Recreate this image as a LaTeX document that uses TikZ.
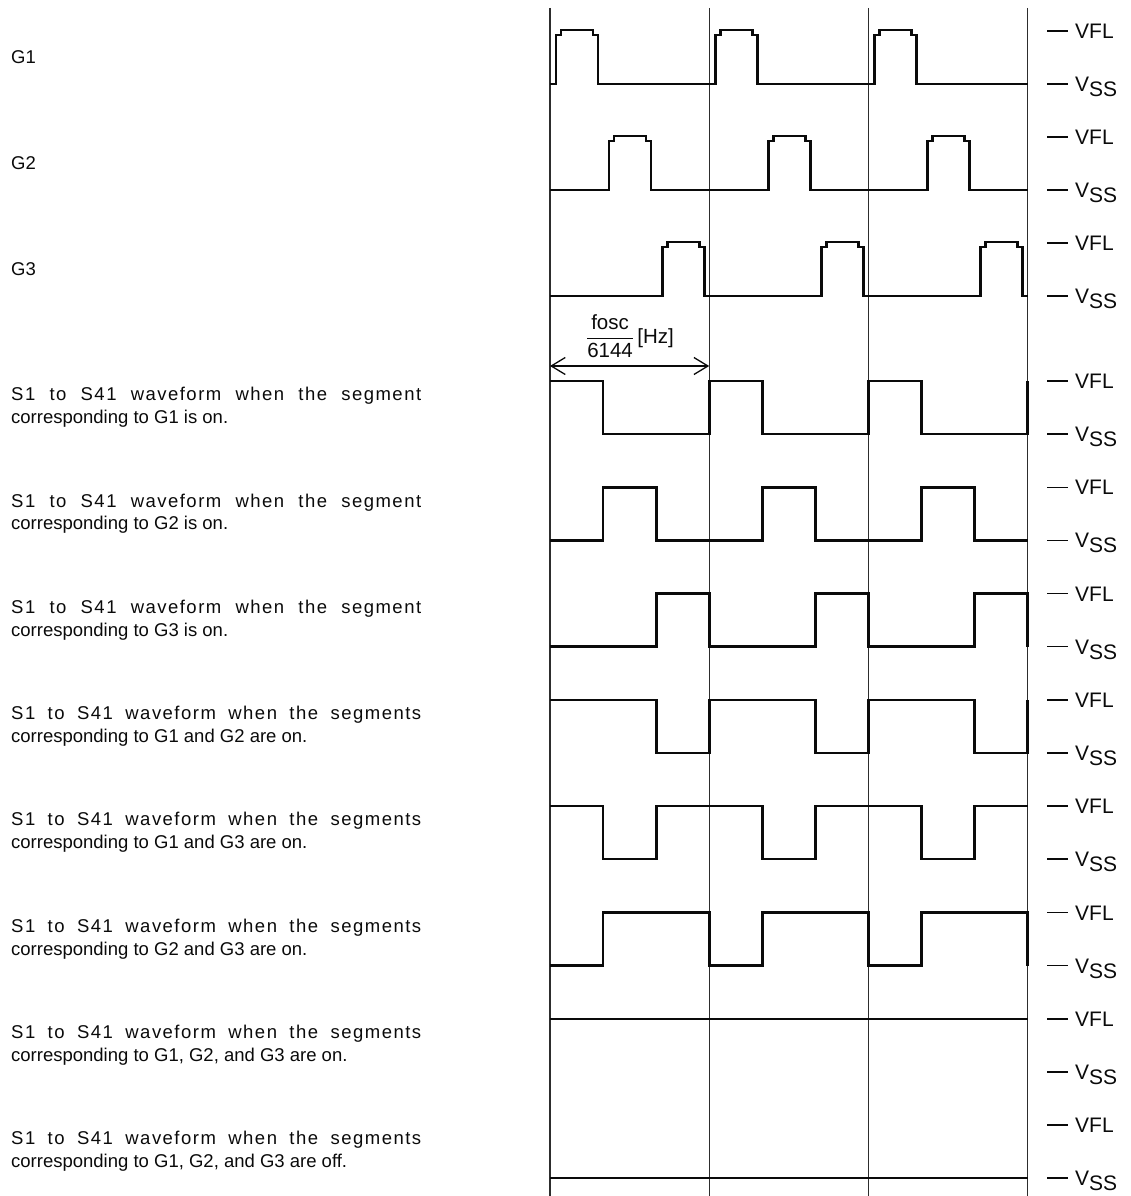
\documentclass[tikz,border=0pt]{standalone}
\usepackage{fontspec}
\setmainfont{Liberation Sans}
\usepackage{amsmath}
\usepackage{tikz}
\usetikzlibrary{arrows.meta, positioning}
\definecolor{myink}{RGB}{10,10,10}
\definecolor{mygrid}{RGB}{45,45,45}
\tikzset{
  wave/.style={line width=2.8pt, color=myink, line join=miter},
  gridline/.style={line width=1.1pt, color=mygrid},
  levlabel/.style={anchor=base west, inner sep=0pt, text=myink,
    font=\fontsize{21}{24}\selectfont},
  rowlabel/.style={anchor=west, align=left, inner sep=0pt, text=myink,
    font=\fontsize{18.5}{22.6}\selectfont},
  dimarrow/.style={{Straight Barb[length=14pt,width=17pt]}-{Straight Barb[length=14pt,width=17pt]},
    line width=1.3pt, color=myink}
}
% dash in front of VFL / VSS
\newcommand{\levdash}{\rule[6.9pt]{21pt}{1.3pt}\hspace{7pt}}
% grid pulse: #1 = VFL level, #2 = third of the period (0,1,2)
\newcommand{\gpulse}[2]{%
  \draw[wave] (550,{#1+53})
    \foreach \k [evaluate=\k as \a using {550+159.17*\k+53.06*#2}] in {0,1,2} {
      -- ({\a+6},{#1+53}) -- ({\a+6},{#1+4}) -- ({\a+11},{#1+4}) -- ({\a+11},{#1-1})
      -- ({\a+43},{#1-1}) -- ({\a+43},{#1+4}) -- ({\a+48},{#1+4}) -- ({\a+48},{#1+53})
    } -- (1027.5,{#1+53});
}
% segment wave: #1 = VFL level, #2-#4 = level in each third (1 = VFL, 0 = VSS)
\newcommand{\swave}[4]{%
  \draw[wave] (550,{#1+53-53*#2})
    \foreach \k [evaluate=\k as \a using {550+159.17*\k}] in {0,1,2} {
      -| ({\a+53.06},{#1+53-53*#3}) -| ({\a+106.11},{#1+53-53*#4})
      -| ({\a+159.17},{#1+53-53*#2})
    };
}
\newcommand{\seglabel}[4]{%
  \node[rowlabel] (#1) at (11,{#2+26.5})
    {\makebox[410pt][s]{\addfontfeature{LetterSpace=8}#3}\\#4};
}

\begin{document}
\begin{tikzpicture}[x=1pt,y=-1pt]
  \useasboundingbox (0,0) rectangle (1131,1196);

  \foreach \k in {0,...,3}
    \draw[gridline] ({550+159.17*\k},8) -- ({550+159.17*\k},1196);

  % level marks
  \foreach \y [count=\i] in {31,137,243,381,487.3,593.6,700,806,912.5,1019,1125} {
    \node[levlabel] (vfl\i) at (1047,{\y+7.5}) {\levdash VFL};
    \node[levlabel] (vss\i) at (1047,{\y+60.5}) {\levdash V\raisebox{-5pt}{SS}};
  }

  % grid outputs
  \node[rowlabel] (lg1) at (11,57.5) {G1};
  \node[rowlabel] (lg2) at (11,163.5) {G2};
  \node[rowlabel] (lg3) at (11,269.5) {G3};
  \gpulse{31}{0}
  \gpulse{137}{1}
  \gpulse{243}{2}

  % frame period
  \coordinate (per0) at (550,366);
  \coordinate (per1) at (709.17,366);
  \draw[dimarrow] (per0) -- (per1);
  \node[inner sep=0pt, text=myink, font=\fontsize{20.5}{24}\selectfont] (freq) at (630,336)
    {$\dfrac{\mbox{fosc}}{\mbox{6144}}$\,[Hz]};

  % segment outputs
  \seglabel{ls1}{381}{S1 to S41 waveform when the segment}{corresponding to G1 is on.}
  \seglabel{ls2}{487.3}{S1 to S41 waveform when the segment}{corresponding to G2 is on.}
  \seglabel{ls3}{593.6}{S1 to S41 waveform when the segment}{corresponding to G3 is on.}
  \seglabel{ls4}{700}{S1 to S41 waveform when the segments}{corresponding to G1 and G2 are on.}
  \seglabel{ls5}{806}{S1 to S41 waveform when the segments}{corresponding to G1 and G3 are on.}
  \seglabel{ls6}{912.5}{S1 to S41 waveform when the segments}{corresponding to G2 and G3 are on.}
  \seglabel{ls7}{1019}{S1 to S41 waveform when the segments}{corresponding to G1, G2, and G3 are on.}
  \seglabel{ls8}{1125}{S1 to S41 waveform when the segments}{corresponding to G1, G2, and G3 are off.}
  \swave{381}{1}{0}{0}
  \swave{487.3}{0}{1}{0}
  \swave{593.6}{0}{0}{1}
  \swave{700}{1}{1}{0}
  \swave{806}{1}{0}{1}
  \swave{912.5}{0}{1}{1}
  \swave{1019}{1}{1}{1}
  \swave{1125}{0}{0}{0}
\end{tikzpicture}
\end{document}
